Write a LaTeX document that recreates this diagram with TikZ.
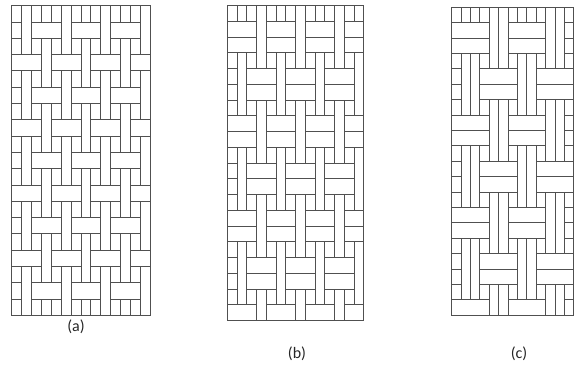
\documentclass[tikz,border=0pt]{standalone}
\usepackage{fontspec}
\setmainfont{Carlito}
\usepackage{tikz}
\usetikzlibrary{positioning}
\usepackage{xcolor}
\definecolor{YarnLine}{HTML}{505050}
\tikzset{
  weave line/.style={draw=YarnLine,line width=1pt},
  panel label/.style={font=\fontsize{16}{19}\selectfont,text=black!85,inner sep=0pt},
  declare function={
    warpa(\cc,\rr)=(mod(\rr,2)==0) || (mod(\cc,4)==mod(\rr,4));
    warpb(\cc,\rr)=(mod(\rr,3)==0) || (mod(\rr,6)<3 && mod(\cc,4)==3) || (mod(\rr,6)>3 && mod(\cc,4)==1);
    warpc(\cc,\rr)=(mod(\rr,3)==0) || (mod(\rr,6)<3 && mod(\cc,6)>3) || (mod(\rr,6)>3 && mod(\cc,6)>0 && mod(\cc,6)<3);
  }
}
% #1 pattern, #2/#3 top left, #4 cell width, #5 row height, #6 columns, #7 rows
\newcommand{\weavepanel}[7]{%
  \pgfmathtruncatemacro\lastc{#6-1}
  \pgfmathtruncatemacro\lastr{#7-1}
  \foreach \c in {0,...,\lastc}{
    \foreach \r in {0,...,\lastr}{
      \pgfmathtruncatemacro\here{#1(\c,\r)}
      \pgfmathtruncatemacro\nextc{#1(\c+1,\r)}
      \pgfmathtruncatemacro\below{#1(\c,\r+1)}
      \ifnum\c<\lastc\relax\ifnum\numexpr\here+\nextc\relax>0
        \draw[weave line] ({#2+(\c+1)*#4},{#3+\r*#5}) -- ++(0,#5);
      \fi\fi
      \ifnum\r<\lastr\relax\ifnum\numexpr\here*\below\relax=0
        \draw[weave line] ({#2+\c*#4},{#3+(\r+1)*#5}) -- ++(#4,0);
      \fi\fi
    }
  }
  \draw[weave line] (#2,#3) rectangle ++({#6*#4},{#7*#5});
}

\begin{document}
\begin{tikzpicture}[x=1pt,y=-1pt]
  \useasboundingbox (0,0) rectangle (575,373);
  % three weaves
  \weavepanel{warpa}{11.7}{5.7}{9.9}{16.3}{14}{19}
  \weavepanel{warpb}{227.3}{5.7}{9.76}{15.75}{14}{20}
  \weavepanel{warpc}{451.7}{7.3}{9.4}{15.4}{13}{20}
  \node[panel label] (lbl a) at (76,327) {(a)};
  \node[panel label] (lbl b) at (297,354) {(b)};
  \node[panel label] (lbl c) at (519,354) {(c)};
\end{tikzpicture}
\end{document}
